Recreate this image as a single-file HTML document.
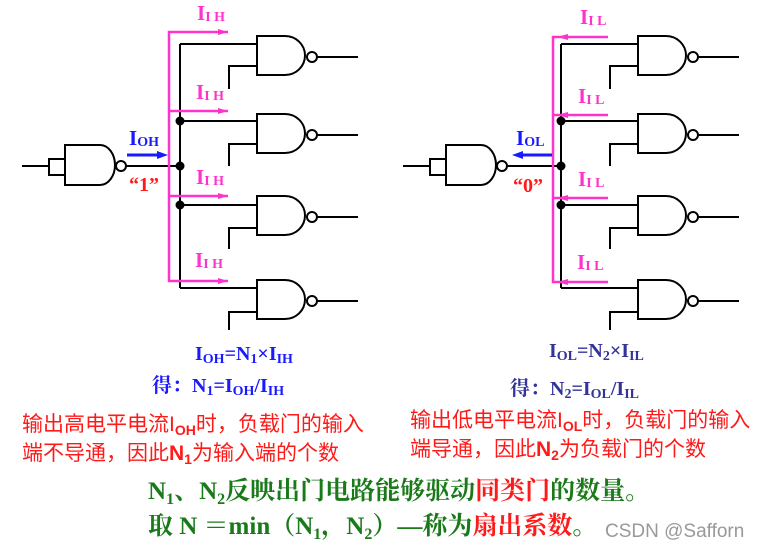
<!DOCTYPE html>
<html><head><meta charset="utf-8"><style>
body{margin:0;background:#fff;width:757px;height:548px;overflow:hidden}
svg{display:block}
.ser{font-family:"Liberation Serif","Noto Serif CJK SC",serif;font-weight:bold}
.sans{font-family:"Liberation Sans","Noto Sans CJK SC",sans-serif}
</style></head><body>
<svg width="757" height="548" viewBox="0 0 757 548" xmlns="http://www.w3.org/2000/svg">
<defs>
<g id="gate" fill="none" stroke="#000" stroke-width="2">
<path d="M0,0 h28 a20,19.5 0 0 1 0,39 h-28 z" fill="#fff"/>
<circle cx="55" cy="21" r="5" fill="#fff"/>
<line x1="60" y1="21" x2="101" y2="21"/>
</g>
<g id="drv" fill="none" stroke="#000" stroke-width="2">
<line x1="22" y1="166" x2="49" y2="166"/>
<rect x="49" y="159" width="16" height="16" fill="#fff"/>
<path d="M65,145 h35 a15,20 0 0 1 0,40 h-35 z" fill="#fff"/>
<circle cx="121" cy="166" r="5" fill="#fff"/>
<line x1="126" y1="166" x2="180" y2="166"/>
</g>
<g id="loads" fill="none" stroke="#000" stroke-width="2">
<line x1="180" y1="44" x2="180" y2="288"/>
<line x1="180" y1="44" x2="257" y2="44"/>
<line x1="180" y1="121" x2="257" y2="121"/>
<line x1="180" y1="205" x2="257" y2="205"/>
<line x1="180" y1="288" x2="257" y2="288"/>
<polyline points="229,89 229,66 257,66"/>
<polyline points="229,166 229,144 257,144"/>
<polyline points="229,249 229,228 257,228"/>
<polyline points="229,330 229,312 257,312"/>
<use href="#gate" x="257" y="36"/>
<use href="#gate" x="257" y="114"/>
<use href="#gate" x="257" y="196"/>
<use href="#gate" x="257" y="280"/>
<circle cx="180" cy="121" r="4.5" fill="#000" stroke="none"/>
<circle cx="180" cy="166" r="4.5" fill="#000" stroke="none"/>
<circle cx="180" cy="205" r="4.5" fill="#000" stroke="none"/>
</g>
</defs>

<use href="#drv"/>
<use href="#loads"/>
<g stroke="#ff33cc" stroke-width="2.5" fill="none">
<polyline points="228,32 169,32 169,281 228,281"/>
<line x1="169" y1="111" x2="228" y2="111"/>
<line x1="169" y1="196" x2="228" y2="196"/>
</g>
<g fill="#ff33cc">
<path d="M218,29 L228,32 L218,35z"/><path d="M218,108 L228,111 L218,114z"/>
<path d="M218,193 L228,196 L218,199z"/><path d="M218,278 L228,281 L218,284z"/>
</g>
<line x1="127" y1="155" x2="160" y2="155" stroke="#1a1aff" stroke-width="3"/>
<path d="M157,151 L168,155 L157,159z" fill="#1a1aff"/>
<g class="ser" fill="#ff33cc" font-size="21">
<text x="197" y="20">I<tspan font-size="14" dy="1">I H</tspan></text>
<text x="196" y="99">I<tspan font-size="14" dy="1">I H</tspan></text>
<text x="196" y="184">I<tspan font-size="14" dy="1">I H</tspan></text>
<text x="195" y="267">I<tspan font-size="14" dy="1">I H</tspan></text>
</g>
<text class="ser" x="129" y="145" fill="#1a1aff" font-size="21">I<tspan font-size="14" dy="1">OH</tspan></text>
<text class="ser" x="129" y="191" fill="#ff1a1a" font-size="20">“1”</text>

<g transform="translate(381,0)">
<use href="#drv"/>
<use href="#loads"/>
</g>
<g stroke="#ff33cc" stroke-width="2.5" fill="none">
<polyline points="608,37 553,37 553,282 608,282"/>
<line x1="553" y1="115" x2="608" y2="115"/>
<line x1="553" y1="198" x2="608" y2="198"/>
</g>
<g fill="#ff33cc">
<path d="M568,34 L557,37 L568,40z"/><path d="M568,112 L557,115 L568,118z"/>
<path d="M568,195 L557,198 L568,201z"/><path d="M568,279 L557,282 L568,285z"/>
</g>
<line x1="520" y1="155" x2="552" y2="155" stroke="#1a1aff" stroke-width="3"/>
<path d="M523,151 L512,155 L523,159z" fill="#1a1aff"/>
<g class="ser" fill="#ff33cc" font-size="21">
<text x="580" y="24">I<tspan font-size="14" dy="1">I L</tspan></text>
<text x="578" y="103">I<tspan font-size="14" dy="1">I L</tspan></text>
<text x="578" y="186">I<tspan font-size="14" dy="1">I L</tspan></text>
<text x="577" y="269">I<tspan font-size="14" dy="1">I L</tspan></text>
</g>
<text class="ser" x="516" y="145" fill="#1a1aff" font-size="21">I<tspan font-size="14" dy="1">OL</tspan></text>
<text class="ser" x="513" y="192" fill="#ff1a1a" font-size="20">“0”</text>

<text class="ser" x="195" y="360" fill="#1a1aff" font-size="20">I<tspan font-size="14" dy="3">OH</tspan><tspan dy="-3">=N</tspan><tspan font-size="14" dy="3">1</tspan><tspan dy="-3">×I</tspan><tspan font-size="14" dy="3">IH</tspan></text>
<text class="ser" x="152" y="392" fill="#1a1aff" font-size="20">得：N<tspan font-size="14" dy="3">1</tspan><tspan dy="-3">=I</tspan><tspan font-size="14" dy="3">OH</tspan><tspan dy="-3">/I</tspan><tspan font-size="14" dy="3">IH</tspan></text>
<text class="ser" x="549" y="357" fill="#333399" font-size="20">I<tspan font-size="14" dy="3">OL</tspan><tspan dy="-3">=N</tspan><tspan font-size="14" dy="3">2</tspan><tspan dy="-3">×I</tspan><tspan font-size="14" dy="3">IL</tspan></text>
<text class="ser" x="510" y="395" fill="#333399" font-size="20">得：N<tspan font-size="14" dy="3">2</tspan><tspan dy="-3">=I</tspan><tspan font-size="14" dy="3">OL</tspan><tspan dy="-3">/I</tspan><tspan font-size="14" dy="3">IL</tspan></text>

<g class="sans" fill="#ff1a1a" font-size="21">
<text x="22" y="431">输出高电平电流I<tspan font-size="14" dy="4" font-weight="bold">OH</tspan><tspan dy="-4">时，负载门的输入</tspan></text>
<text x="22" y="460">端不导通，因此<tspan font-weight="bold">N</tspan><tspan font-size="14" dy="4" font-weight="bold">1</tspan><tspan dy="-4">为输入端的个数</tspan></text>
<text x="410" y="427">输出低电平电流I<tspan font-size="14" dy="4" font-weight="bold">OL</tspan><tspan dy="-4">时，负载门的输入</tspan></text>
<text x="410" y="456">端导通，因此<tspan font-weight="bold">N</tspan><tspan font-size="14" dy="4" font-weight="bold">2</tspan><tspan dy="-4">为负载门的个数</tspan></text>
</g>

<g class="ser" fill="#1a7a1a" font-size="25">
<text x="148" y="499">N<tspan font-size="16" dy="5">1</tspan><tspan dy="-5">、N</tspan><tspan font-size="16" dy="5">2</tspan><tspan dy="-5">反映出门电路能够驱动</tspan><tspan fill="#ff1a1a">同类门</tspan>的数量。</text>
<text x="148" y="534">取 N ＝min（N<tspan font-size="16" dy="5">1</tspan><tspan dy="-5">，N</tspan><tspan font-size="16" dy="5">2</tspan><tspan dy="-5">）—称为</tspan><tspan fill="#ff1a1a">扇出系数</tspan>。</text>
</g>
<text class="sans" x="605" y="537" fill="#999" font-size="19">CSDN @Safforn</text>
</svg>
</body></html>
